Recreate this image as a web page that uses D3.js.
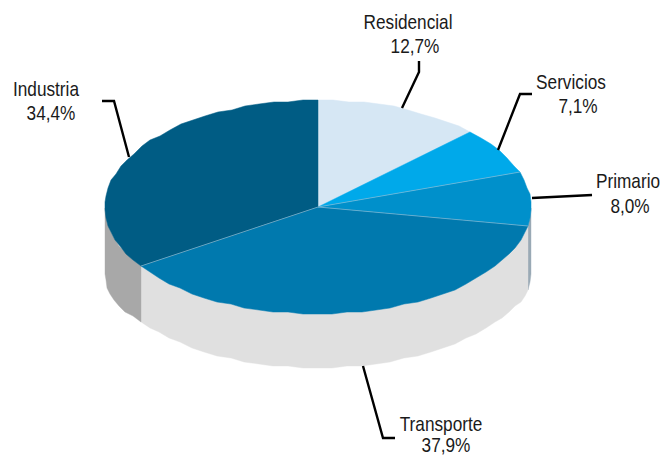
<!DOCTYPE html>
<head>
<meta charset="utf-8">
<script src="https://d3js.org/d3.v7.min.js"></script>
<style>
body { margin:0; background:#fff; }
svg { display:block; }
text { font-family:"Liberation Sans",sans-serif; font-size:21px; fill:#1a1a1a; text-anchor:middle; }
</style>
</head>
<body>
<div id="chart"></div>
<script>

// Data
const sectors = ["Residencial", "Servicios", "Primario", "Transporte", "Industria"];
const shares = [12.7, 7.1, 8.0, 37.9, 34.4];

// Colours
const topColors = ["#d6e7f4", "#00a9ea", "#0090cb", "#0079ae", "#005c84"];
const wallColors = ["#d6e7f4", "#00a9ea", "#9aaab5", "#e0e0e0", "#a8a8a8"];

// Layout of the labels and their leader lines
const labelPos = [
  {name:[408, 29], value:[415, 53], leader:[[419,61],[419,72],[402,108]]},
  {name:[571, 89], value:[578, 113], leader:[[532,94],[520,94],[498,150]]},
  {name:[628, 188], value:[630, 213], leader:[[592,195],[532,198]]},
  {name:[441, 431], value:[446, 452], leader:[[363,366],[383,438],[395,438]]},
  {name:[46, 96], value:[51, 120], leader:[[102,101],[114,101],[129,157]]}
];

const width = 664, height = 456;
const cx = 318, cy = 207, rx = 213, ry = 107, depth = 54;
const narrow = 0.82; // no condensed face installed, so squeeze the text

let svg = d3.select("#chart").append("svg")
    .attr("width", width)
    .attr("height", height);

let pie = d3.pie().sort(null);
let slices = pie(shares);

let formatValue = d3.formatLocale({decimal:",", thousands:".", grouping:[3], currency:["",""]}).format(".1f");

let line = d3.line();

// Rim of the pie, stepped a bit like the scanned original
function rim(a, dy) {
  let x = cx + rx * Math.sin(a),
      y = cy - ry * Math.cos(a) + dy;
  return [Math.round(x), Math.round(y / 2) * 2];
}

function rimPoints(a0, a1, dy) {
  let step = Math.PI / 45;
  let n = Math.max(1, Math.round((a1 - a0) / step));
  return d3.range(n + 1).map(function(i) {
    return rim(a0 + (a1 - a0) * i / n, dy);
  });
}

// The lower edge hangs a little further down at the far left and right
function lowerEdge(a0, a1) {
  let step = Math.PI / 45;
  let n = Math.max(1, Math.round((a1 - a0) / step));
  return d3.range(n + 1).map(function(i) {
    let a = a0 + (a1 - a0) * i / n;
    return rim(a, depth + 12 * Math.pow(Math.abs(Math.sin(a)), 10));
  });
}

// Side walls, front half only
svg.append("g").selectAll("path")
    .data(slices.filter(function(d) { return d.endAngle > Math.PI / 2 && d.startAngle < 3 * Math.PI / 2; }))
  .enter().append("path")
    .attr("fill", function(d) { return wallColors[d.index]; })
    .attr("stroke", function(d) { return wallColors[d.index]; })
    .attr("stroke-width", 0.4)
    .attr("d", function(d) {
      let a0 = Math.max(d.startAngle, Math.PI / 2),
          a1 = Math.min(d.endAngle, 3 * Math.PI / 2);
      return line(rimPoints(a0, a1, 0).concat(lowerEdge(a0, a1).reverse())) + "Z";
    });

// Top of the pie
svg.append("g").selectAll("path")
    .data(slices)
  .enter().append("path")
    .attr("fill", function(d) { return topColors[d.index]; })
    .attr("stroke", function(d) { return topColors[d.index]; })
    .attr("stroke-width", 0.5)
    .attr("d", function(d) {
      return line([[cx, cy]].concat(rimPoints(d.startAngle, d.endAngle, 0))) + "Z";
    });

// Thin pale seams between the darker slices
svg.append("g").selectAll("line")
    .data(slices.slice(2))
  .enter().append("line")
    .attr("x1", cx)
    .attr("y1", cy)
    .attr("x2", function(d) { return rim(d.startAngle, 0)[0]; })
    .attr("y2", function(d) { return rim(d.startAngle, 0)[1]; })
    .attr("stroke", "#9fcbe0")
    .attr("stroke-width", 0.6);

// Leader lines
svg.append("g").selectAll("path")
    .data(labelPos)
  .enter().append("path")
    .attr("fill", "none")
    .attr("stroke", "#000")
    .attr("stroke-width", 2.4)
    .attr("d", function(d) { return line(d.leader); });

// Labels
let labels = svg.append("g").selectAll("g")
    .data(slices)
  .enter().append("g");

labels.append("text")
    .attr("transform", function(d) {
      let p = labelPos[d.index].name;
      return "translate(" + p[0] + "," + p[1] + ") scale(" + narrow + ",1)";
    })
    .text(function(d) { return sectors[d.index]; });

labels.append("text")
    .attr("transform", function(d) {
      let p = labelPos[d.index].value;
      return "translate(" + p[0] + "," + p[1] + ") scale(" + narrow + ",1)";
    })
    .text(function(d) { return formatValue(d.value) + "%"; });

</script>
</body>
